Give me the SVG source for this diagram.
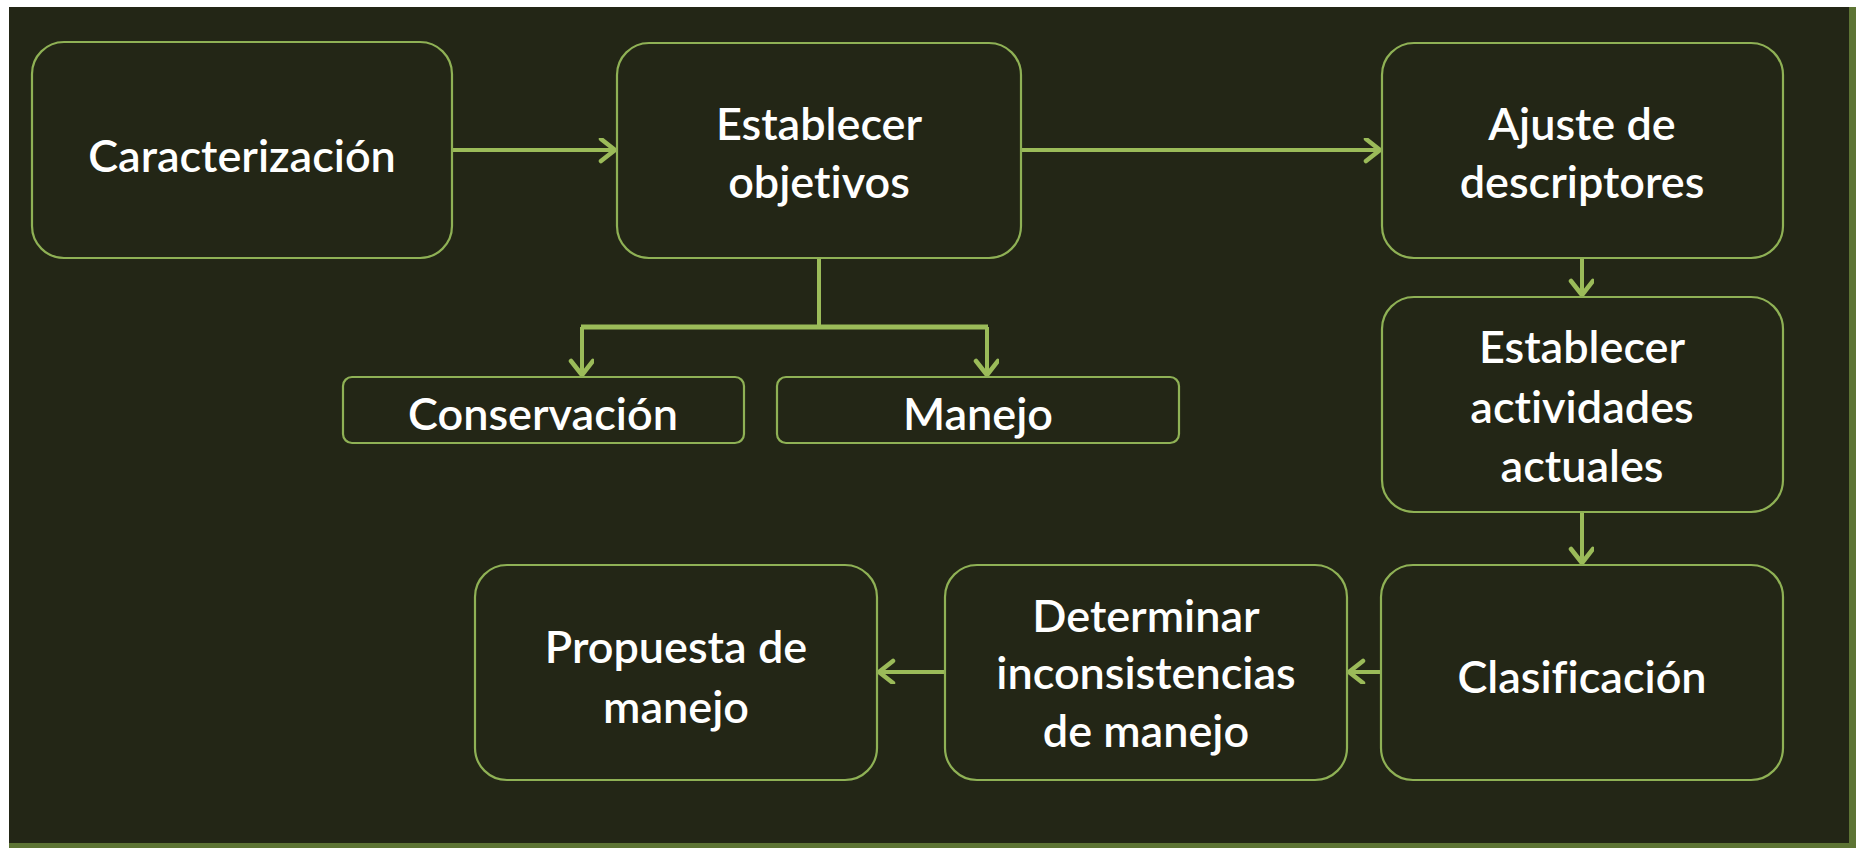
<svg xmlns="http://www.w3.org/2000/svg" width="1856" height="848" viewBox="0 0 1856 848">
<defs>
<style>
.node rect{fill:#232616;stroke:#8fb155;stroke-width:2.2}
.lbl{font-family:Lato,"Liberation Sans",sans-serif;font-size:45px;font-weight:600;fill:#ffffff;text-anchor:middle;font-variant-ligatures:none;font-feature-settings:"liga" 0}
.conn path{fill:none;stroke:#9bbb59;stroke-width:4}
</style>
<marker id="arr" markerUnits="userSpaceOnUse" markerWidth="30" markerHeight="30" refX="18" refY="12" orient="auto" viewBox="0 0 30 30">
<path d="M4,1 L18,12 L4,23" fill="none" stroke="#9bbb59" stroke-width="4.5" stroke-linecap="round" stroke-linejoin="miter"/>
</marker>
</defs>
<rect x="0" y="0" width="1856" height="848" fill="#ffffff"/>
<rect x="9" y="7" width="1847" height="841" fill="#5d7434"/>
<rect x="9" y="7" width="1840" height="836" fill="#232616"/>

<g class="conn" id="connectors">
<path d="M452,150 L615,150" marker-end="url(#arr)"/>
<path d="M1021,150 L1380,150" marker-end="url(#arr)"/>
<path d="M1582,258 L1582,295" marker-end="url(#arr)"/>
<path d="M1582,512 L1582,563" marker-end="url(#arr)"/>
<path d="M1381,672 L1349,672" marker-end="url(#arr)"/>
<path d="M945,672 L879,672" marker-end="url(#arr)"/>
<path d="M819,258 L819,327"/>
<path d="M581,327 L988,327" style="stroke-width:5"/>
<path d="M582,327 L582,375" marker-end="url(#arr)"/>
<path d="M987,327 L987,375" marker-end="url(#arr)"/>
</g>

<g class="node" id="n-caracterizacion">
<rect x="32" y="42" width="420" height="216" rx="32"/>
<text class="lbl" x="242" y="172">Caracterización</text>
</g>
<g class="node" id="n-establecer-objetivos">
<rect x="617" y="43" width="404" height="215" rx="32"/>
<text class="lbl" x="819" y="140">Establecer</text>
<text class="lbl" x="819" y="198">objetivos</text>
</g>
<g class="node" id="n-ajuste">
<rect x="1382" y="43" width="401" height="215" rx="32"/>
<text class="lbl" x="1582" y="140">Ajuste de</text>
<text class="lbl" x="1582" y="198">descriptores</text>
</g>
<g class="node" id="n-actividades">
<rect x="1382" y="297" width="401" height="215" rx="32"/>
<text class="lbl" x="1582" y="363">Establecer</text>
<text class="lbl" x="1582" y="423">actividades</text>
<text class="lbl" x="1582" y="482">actuales</text>
</g>
<g class="node" id="n-clasificacion">
<rect x="1381" y="565" width="402" height="215" rx="32"/>
<text class="lbl" x="1582" y="693">Clasificación</text>
</g>
<g class="node" id="n-determinar">
<rect x="945" y="565" width="402" height="215" rx="32"/>
<text class="lbl" x="1146" y="632">Determinar</text>
<text class="lbl" x="1146" y="689">inconsistencias</text>
<text class="lbl" x="1146" y="747">de manejo</text>
</g>
<g class="node" id="n-propuesta">
<rect x="475" y="565" width="402" height="215" rx="32"/>
<text class="lbl" x="676" y="663">Propuesta de</text>
<text class="lbl" x="676" y="723">manejo</text>
</g>
<g class="node" id="n-conservacion">
<rect x="343" y="377" width="401" height="66" rx="9"/>
<text class="lbl" x="543" y="430">Conservación</text>
</g>
<g class="node" id="n-manejo">
<rect x="777" y="377" width="402" height="66" rx="9"/>
<text class="lbl" x="978" y="430">Manejo</text>
</g>
</svg>
